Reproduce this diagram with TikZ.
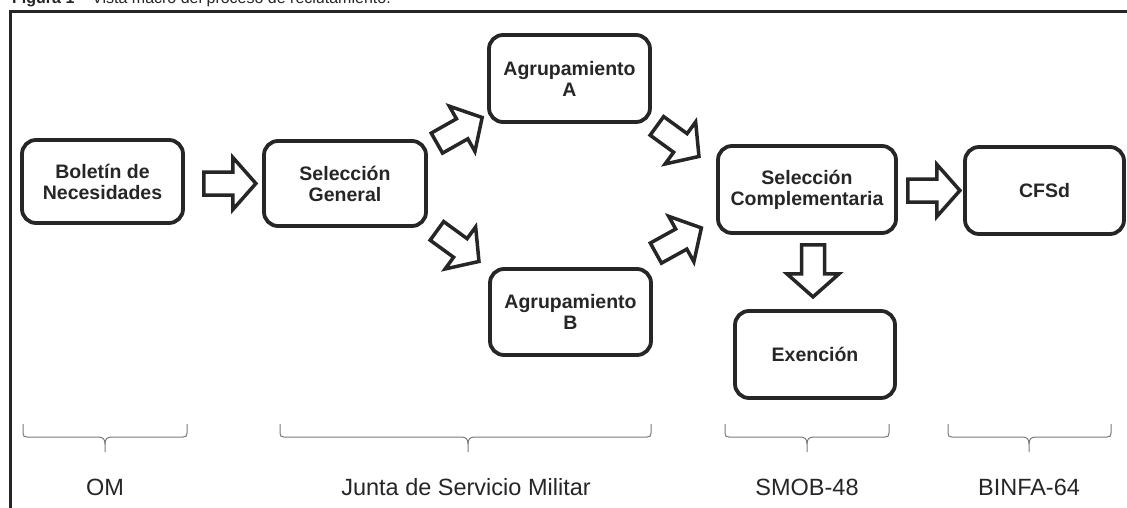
\documentclass[tikz,border=0pt]{standalone}
\usepackage{fontspec}
\setmainfont{Liberation Sans}
\usetikzlibrary{calc}
\definecolor{ink}{HTML}{262626}
\definecolor{bracegray}{HTML}{7A7A7A}
\tikzset{
  box/.style={draw=ink, line width=3.8pt, rounded corners=14pt, inner sep=0pt,
    align=center, font=\fontsize{19.5}{21}\selectfont\bfseries, text=ink},
  barrow/.pic={\draw[draw=ink, fill=white, line width=3.5pt, miter limit=10]
    (0,-11.5) -- (29,-11.5) -- (29,-26) -- (52,0) -- (29,26) -- (29,11.5) -- (0,11.5) -- cycle;},
  grp/.style={font=\fontsize{23.5}{26}\selectfont, text=ink, anchor=base, inner sep=0pt},
  bracestyle/.style={draw=bracegray, line width=1pt},
  frame/.style={draw=ink, line width=3pt},
}
\newcommand\grpbrace[3]{%
  \draw[bracestyle] (#1,-424) -- (#1,-433) .. controls (#1,-436) and (#1+1,-437) .. (#1+4,-437)
    -- (#2-7,-437) .. controls (#2-2,-437) and (#2,-439) .. (#2,-444) -- (#2,-452);
  \draw[bracestyle] (#3,-424) -- (#3,-433) .. controls (#3,-436) and (#3-1,-437) .. (#3-4,-437)
    -- (#2+7,-437) .. controls (#2+2,-437) and (#2,-439) .. (#2,-444);
}
\begin{document}
\begin{tikzpicture}[x=1pt,y=1pt]
\useasboundingbox (0,0) rectangle (1127,-508);
\fill[white] (0,0) rectangle (1127,-508);

% caption (cut off at the top)
\node[anchor=base west, inner sep=0pt, font=\fontsize{16}{18}\selectfont, text=ink] (cap) at (12,-4)
  {\textbf{Figura 1 –} Vista macro del proceso de reclutamiento.};

% frame
\draw[frame] (10.5,-508) -- (10.5,-11.5) -- (1127,-11.5);

% boxes
\node[box, minimum width=161pt, minimum height=83pt] (bol) at (102.5,-181.5) {Boletín de\\Necesidades};
\node[box, minimum width=162pt, minimum height=85pt] (sg) at (345,-183.5) {Selección\\General};
\node[box, minimum width=161pt, minimum height=87pt] (ga) at (569.5,-78.5) {Agrupamiento\\A};
\node[box, minimum width=161pt, minimum height=86pt] (gb) at (570.5,-312) {Agrupamiento\\B};
\node[box, minimum width=178pt, minimum height=87pt] (sc) at (807,-189.5) {Selección\\Complementaria};
\node[box, minimum width=159pt, minimum height=87pt] (cfs) at (1044.5,-190.5) {CFSd};
\node[box, minimum width=160pt, minimum height=87pt] (exe) at (815,-354.5) {Exención};

% block arrows
\pic at ($(bol.east)+(19,-2)$) {barrow};
\pic[rotate=29.5] at ($(sg.north east)+(9,-4)$) {barrow};
\pic[rotate=-36] at ($(sg.south east)+(9,-3)$) {barrow};
\pic[rotate=-36] at ($(ga.south east)+(5,-2)$) {barrow};
\pic[rotate=29] at ($(gb.north east)+(3,14)$) {barrow};
\pic at ($(sc.east)+(10,-1)$) {barrow};
\pic[rotate=-90] at ($(sc.south)+(6,-10)$) {barrow};

% braces
\grpbrace{23}{105}{187}
\grpbrace{280}{468}{651}
\grpbrace{725}{807}{889}
\grpbrace{948}{1029}{1111}

% group labels
\node[grp] (om) at (105,-495) {OM};
\node[grp] (jsm) at (466,-495) {Junta de Servicio Militar};
\node[grp] (smob) at (807,-495) {SMOB-48};
\node[grp] (binfa) at (1029,-495) {BINFA-64};
\end{tikzpicture}
\end{document}
